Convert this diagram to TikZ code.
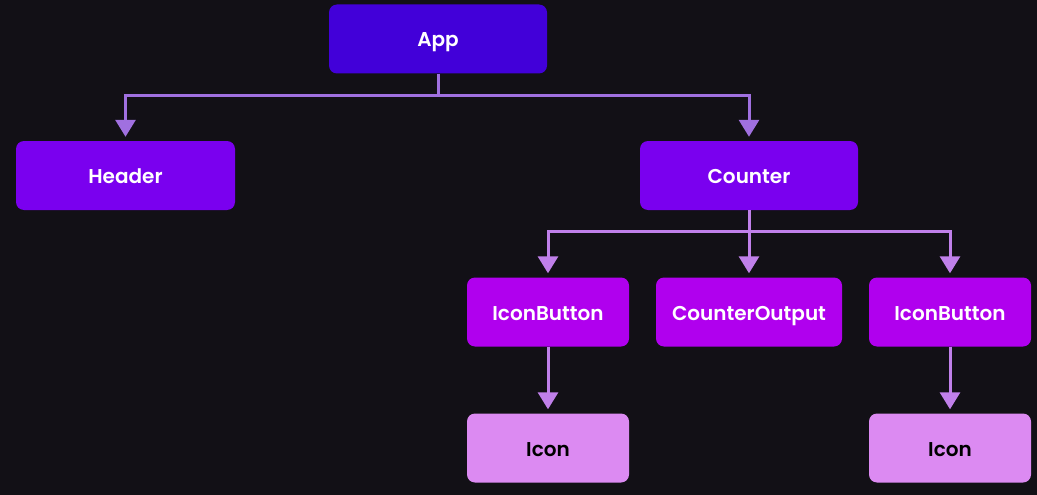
\documentclass[tikz,border=0pt]{standalone}
\usepackage{fontspec}
\setmainfont{Poppins}[BoldFont={Poppins SemiBold}]
\usetikzlibrary{arrows.meta}
\definecolor{bgc}{HTML}{121016}
\definecolor{appc}{HTML}{4200D9}
\definecolor{lvl1}{HTML}{7A00EF}
\definecolor{lvl2}{HTML}{B000EE}
\definecolor{lvl3}{HTML}{DC8AF2}
\definecolor{linec}{HTML}{A070E0}
\definecolor{linec2}{HTML}{C080EA}
\tikzset{
  box/.style={rectangle, rounded corners=8pt, inner sep=0pt, text=white,
    font=\fontsize{20}{22}\selectfont\bfseries, minimum height=69pt,
    text height=16pt, text depth=0pt},
  conn/.style={draw=linec, line width=3pt, -{Triangle[width=20pt,length=17pt]}, shorten >=4pt},
  conn2/.style={conn, draw=linec2},
}
\begin{document}
\begin{tikzpicture}[x=1pt,y=-1pt]
\fill[bgc] (0,0) rectangle (1037,495);
\useasboundingbox (0,0) rectangle (1037,495);
\node[box, fill=appc, minimum width=218pt] (app) at (438,39) {App};
\node[box, fill=lvl1, minimum width=219pt] (header) at (125.5,175.5) {Header};
\node[box, fill=lvl1, minimum width=218pt] (counter) at (749,175.5) {Counter};
\node[box, fill=lvl2, minimum width=162pt] (ib1) at (548,312) {IconButton};
\node[box, fill=lvl2, minimum width=186pt] (co) at (749,312) {CounterOutput};
\node[box, fill=lvl2, minimum width=162pt] (ib2) at (950,312) {IconButton};
\node[box, fill=lvl3, text=black, minimum width=162pt] (ic1) at (548,448) {Icon};
\node[box, fill=lvl3, text=black, minimum width=162pt] (ic2) at (950,448) {Icon};
\coordinate (j1) at (438,96);
\coordinate (j2) at (749,231);
\draw[conn] (app.south) -- (j1) -| (header.north);
\draw[conn] (j1) -| (counter.north);
\draw[conn2] (counter.south) -- (j2) -| (ib1.north);
\draw[conn2] (j2) -- (co.north);
\draw[conn2] (j2) -| (ib2.north);
\draw[conn2] (ib1.south) -- (ic1.north);
\draw[conn2] (ib2.south) -- (ic2.north);
\end{tikzpicture}
\end{document}
